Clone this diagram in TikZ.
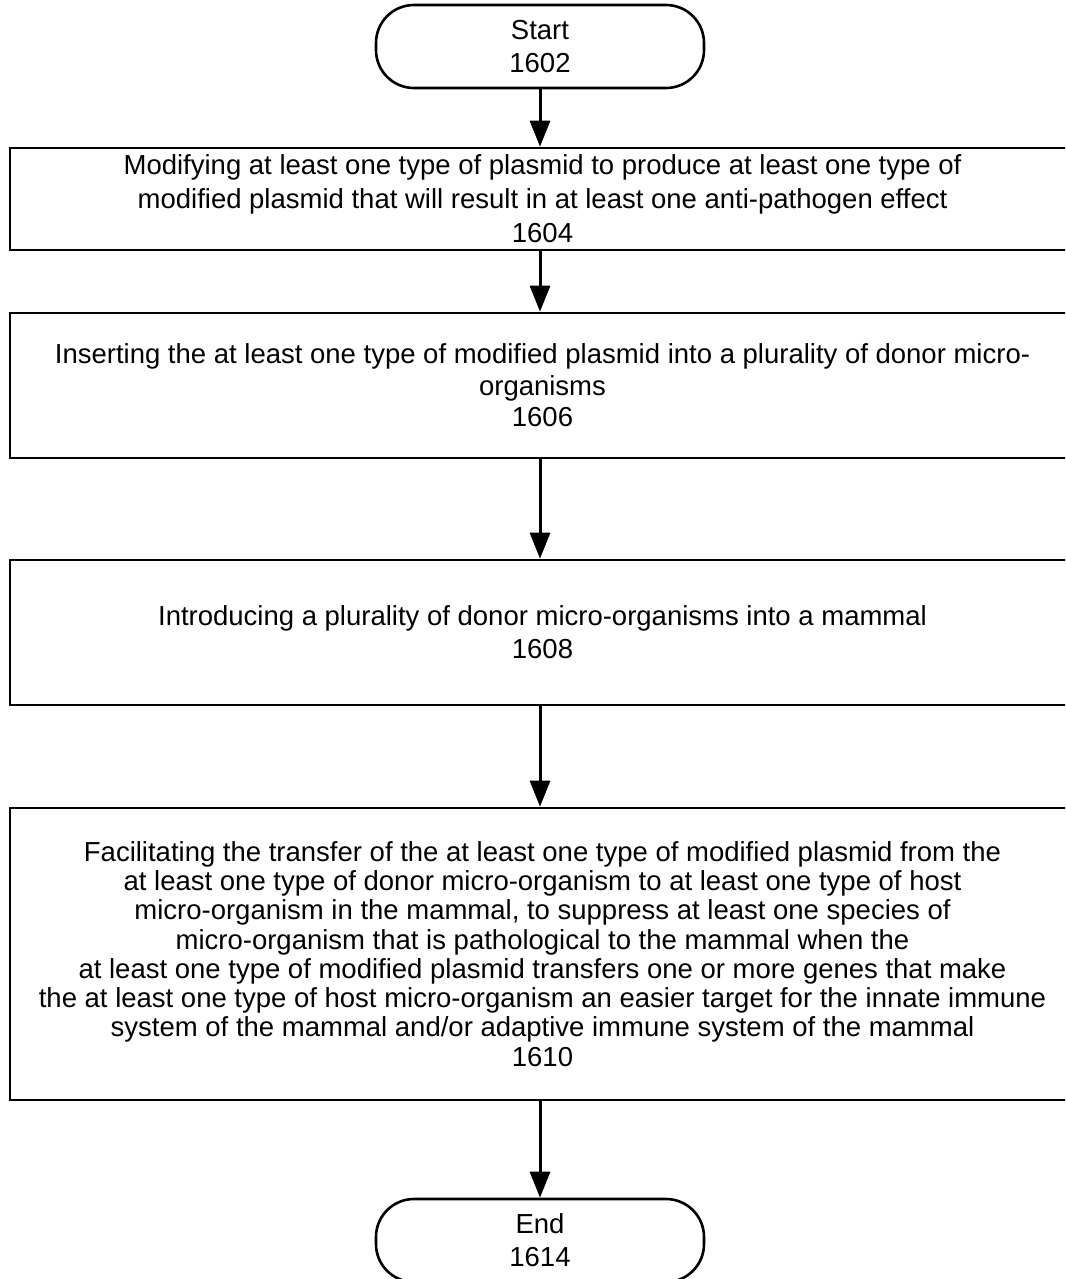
\documentclass[tikz,border=0pt]{standalone}
\usepackage{fontspec}
\setmainfont{Liberation Sans}
\usetikzlibrary{arrows.meta}
\begin{document}
\begin{tikzpicture}[x=1pt,y=-1pt,
  line width=2.6pt,
  stepbox/.style={draw, rectangle, minimum width=1065pt, inner sep=0pt, align=center},
  terminal/.style={draw, rectangle, rounded corners=38pt, minimum width=328pt, minimum height=83pt, inner sep=0pt, align=center,
    font=\fontsize{27.5pt}{33pt}\selectfont},
  flow/.style={-{Triangle[width=20pt,length=26pt]}, line width=3pt}
]
\useasboundingbox (0,0) rectangle (1065,1279);
\clip (0,0) rectangle (1065,1279);

\node[terminal] (start) at (540,46.5) {Start\\1602};

\node[stepbox, minimum height=102pt, font=\fontsize{27.5pt}{34pt}\selectfont] (s1604) at (542.5,199)
  {Modifying at least one type of plasmid to produce at least one type of\\
   modified plasmid that will result in at least one anti-pathogen effect\\1604};

\node[stepbox, minimum height=145pt, font=\fontsize{27.5pt}{31.5pt}\selectfont] (s1606) at (542.5,385.5)
  {Inserting the at least one type of modified plasmid into a plurality of donor micro-\\
   organisms\\1606};

\node[stepbox, minimum height=145pt, font=\fontsize{27.5pt}{33pt}\selectfont] (s1608) at (542.5,632.5)
  {Introducing a plurality of donor micro-organisms into a mammal\\1608};

\node[stepbox, minimum height=292pt, font=\fontsize{27.5pt}{29.25pt}\selectfont] (s1610) at (542.5,954)
  {Facilitating the transfer of the at least one type of modified plasmid from the\\
   at least one type of donor micro-organism to at least one type of host\\
   micro-organism in the mammal, to suppress at least one species of\\
   micro-organism that is pathological to the mammal when the\\
   at least one type of modified plasmid transfers one or more genes that make\\
   the at least one type of host micro-organism an easier target for the innate immune\\
   system of the mammal and/or adaptive immune system of the mammal\\
   1610};

\node[terminal] (end) at (540,1240.5) {End\\1614};

\draw[flow] (start.south) -- (start.south |- s1604.north);
\draw[flow] (start.south |- s1604.south) -- (start.south |- s1606.north);
\draw[flow] (start.south |- s1606.south) -- (start.south |- s1608.north);
\draw[flow] (start.south |- s1608.south) -- (start.south |- s1610.north);
\draw[flow] (start.south |- s1610.south) -- (end.north);
\end{tikzpicture}
\end{document}
